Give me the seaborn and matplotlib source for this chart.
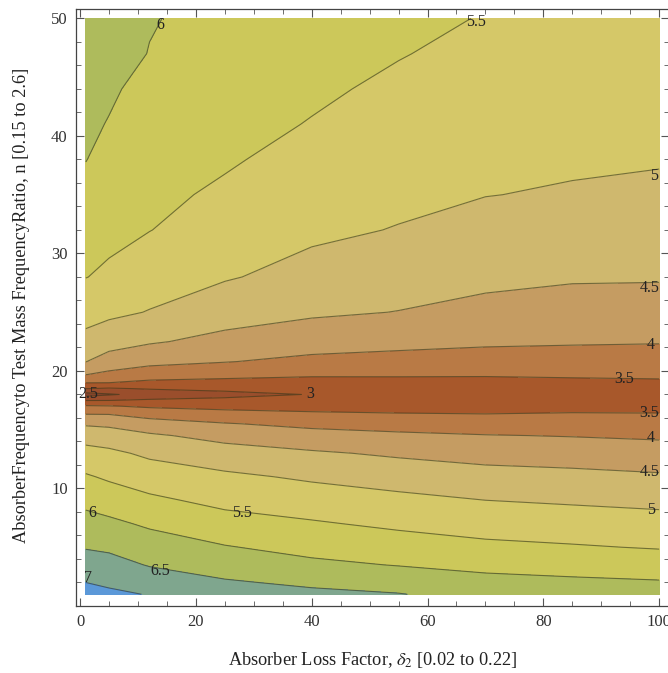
import numpy as np
import matplotlib
matplotlib.use("Agg")
import matplotlib.pyplot as plt
import seaborn as sns

# absorber loss factor (x) and frequency ratio (y) sample positions
loss_factor = [1, 5, 12, 25, 40, 55, 70, 85, 100]
freq_ratio = [1, 2, 3.5, 5, 7, 9, 11, 13, 14.5, 15.5, 16.3, 17, 17.5, 18,
              18.5, 19, 19.7, 20.8, 22.5, 25, 28, 32, 35, 38, 41, 44, 47, 50]

# response values, one row per freq_ratio value
response = [
    [7.20, 7.08, 6.98, 6.72, 6.60, 6.52, 6.32, 6.28, 6.23],
    [7.00, 6.93, 6.77, 6.55, 6.42, 6.31, 6.14, 6.09, 6.04],
    [6.73, 6.67, 6.47, 6.29, 6.10, 5.98, 5.88, 5.81, 5.75],
    [6.47, 6.42, 6.24, 6.03, 5.85, 5.73, 5.61, 5.54, 5.47],
    [6.18, 6.10, 5.93, 5.69, 5.55, 5.41, 5.29, 5.24, 5.18],
    [5.87, 5.77, 5.59, 5.37, 5.24, 5.12, 5.00, 4.94, 4.88],
    [5.55, 5.43, 5.26, 5.09, 4.93, 4.79, 4.68, 4.63, 4.56],
    [5.17, 5.10, 4.91, 4.71, 4.56, 4.43, 4.32, 4.27, 4.21],
    [4.80, 4.74, 4.57, 4.34, 4.18, 4.09, 4.02, 3.98, 3.93],
    [4.44, 4.40, 4.21, 4.03, 3.88, 3.80, 3.74, 3.73, 3.70],
    [4.01, 4.00, 3.83, 3.68, 3.58, 3.53, 3.51, 3.53, 3.52],
    [3.56, 3.53, 3.43, 3.36, 3.34, 3.35, 3.36, 3.39, 3.40],
    [2.98, 2.99, 3.07, 3.12, 3.18, 3.23, 3.25, 3.29, 3.32],
    [2.30, 2.45, 2.65, 2.85, 3.02, 3.10, 3.15, 3.20, 3.25],
    [3.01, 2.95, 3.04, 3.12, 3.18, 3.23, 3.27, 3.31, 3.35],
    [3.51, 3.50, 3.39, 3.36, 3.34, 3.37, 3.38, 3.41, 3.44],
    [4.01, 3.89, 3.74, 3.64, 3.56, 3.55, 3.54, 3.56, 3.57],
    [4.51, 4.28, 4.13, 4.02, 3.88, 3.83, 3.78, 3.77, 3.76],
    [4.85, 4.71, 4.55, 4.36, 4.22, 4.14, 4.08, 4.05, 4.03],
    [5.19, 5.10, 4.98, 4.72, 4.57, 4.49, 4.37, 4.29, 4.28],
    [5.51, 5.42, 5.22, 5.04, 4.84, 4.70, 4.61, 4.55, 4.54],
    [5.71, 5.62, 5.51, 5.26, 5.09, 4.98, 4.84, 4.78, 4.76],
    [5.87, 5.74, 5.60, 5.43, 5.22, 5.10, 5.01, 4.96, 4.92],
    [6.01, 5.86, 5.69, 5.55, 5.35, 5.21, 5.10, 5.06, 5.03],
    [6.08, 5.98, 5.78, 5.64, 5.48, 5.31, 5.20, 5.14, 5.10],
    [6.15, 6.06, 5.87, 5.72, 5.57, 5.42, 5.29, 5.21, 5.17],
    [6.23, 6.13, 5.99, 5.81, 5.66, 5.52, 5.39, 5.29, 5.23],
    [6.30, 6.20, 6.02, 5.90, 5.75, 5.60, 5.48, 5.37, 5.30],
]

levels = [2.0, 2.5, 3.0, 3.5, 4.0, 4.5, 5.0, 5.5, 6.0, 6.5, 7.0, 7.5]
band_colors = ['#86432C', '#9A4E2C', '#A8582B', '#B97A45', '#C59C62', '#CFB86E',
               '#D5C868', '#CCC85A', '#AEBB5C', '#7FA68E', '#5B98D8']

# contour labels as they sit in the picture
label_text = ['6', '5.5', '5', '4.5', '4', '3.5', '3.5', '4', '4.5', '5',
              '2.5', '3', '6', '5.5', '6.5', '7']
label_x = [13.8, 68.4, 99.1, 98.3, 98.6, 94, 98.3, 98.6, 98.3, 98.6,
           1.4, 39.7, 2.1, 28, 13.8, 1.4]
label_y = [49.4, 49.7, 36.6, 27.1, 22.2, 19.3, 16.4, 14.3, 11.4, 8.2,
           18.0, 18.0, 7.9, 7.9, 3.0, 2.4]

sns.set_theme(style="ticks")
plt.rcParams['font.family'] = ['Liberation Serif', 'DejaVu Serif']
plt.rcParams['mathtext.fontset'] = 'stix'

fig = plt.figure(figsize=(6.68, 6.73), dpi=100)
ax = fig.add_axes([76 / 668, 67 / 673, 593 / 668, 597 / 673])

X, Y = np.meshgrid(loss_factor, freq_ratio)
Z = np.array(response)
ax.contourf(X, Y, Z, levels=levels, colors=band_colors)
ax.contour(X, Y, Z, levels=levels[1:-1], colors='#34341a', linewidths=0.8, alpha=0.6)

for t, lx, ly in zip(label_text, label_x, label_y):
    ax.text(lx, ly, t, ha='center', va='center', fontsize=11.5, color='#222222')

ax.set_xlim(-0.7, 101.7)
ax.set_ylim(0, 50.8)
ax.set_facecolor('white')

ax.set_xticks([0, 20, 40, 60, 80, 100])
ax.set_yticks([10, 20, 30, 40, 50])
ax.set_xticks(np.arange(0, 101, 5), minor=True)
ax.set_yticks(np.arange(0, 51, 2), minor=True)
ax.tick_params(which='both', direction='in', top=True, right=True,
               labeltop=False, labelright=False, color='#555555',
               labelsize=12, labelcolor='#333333')
ax.tick_params(which='major', length=6, width=0.8, pad=6)
ax.tick_params(which='minor', length=3.5, width=0.6)
for s in ax.spines.values():
    s.set_color('#444444')
    s.set_linewidth(0.9)

ax.set_xlabel(r'Absorber Loss Factor, $\delta_2$ [0.02 to 0.22]', fontsize=13.2, color='#222222')
ax.set_ylabel('AbsorberFrequencyto Test Mass FrequencyRatio, n [0.15 to 2.6]',
              fontsize=13.2, color='#222222')
ax.xaxis.set_label_coords(0.5, -0.074)
ax.yaxis.set_label_coords(-0.077, 0.503)

fig.savefig('out.png', dpi=100)
